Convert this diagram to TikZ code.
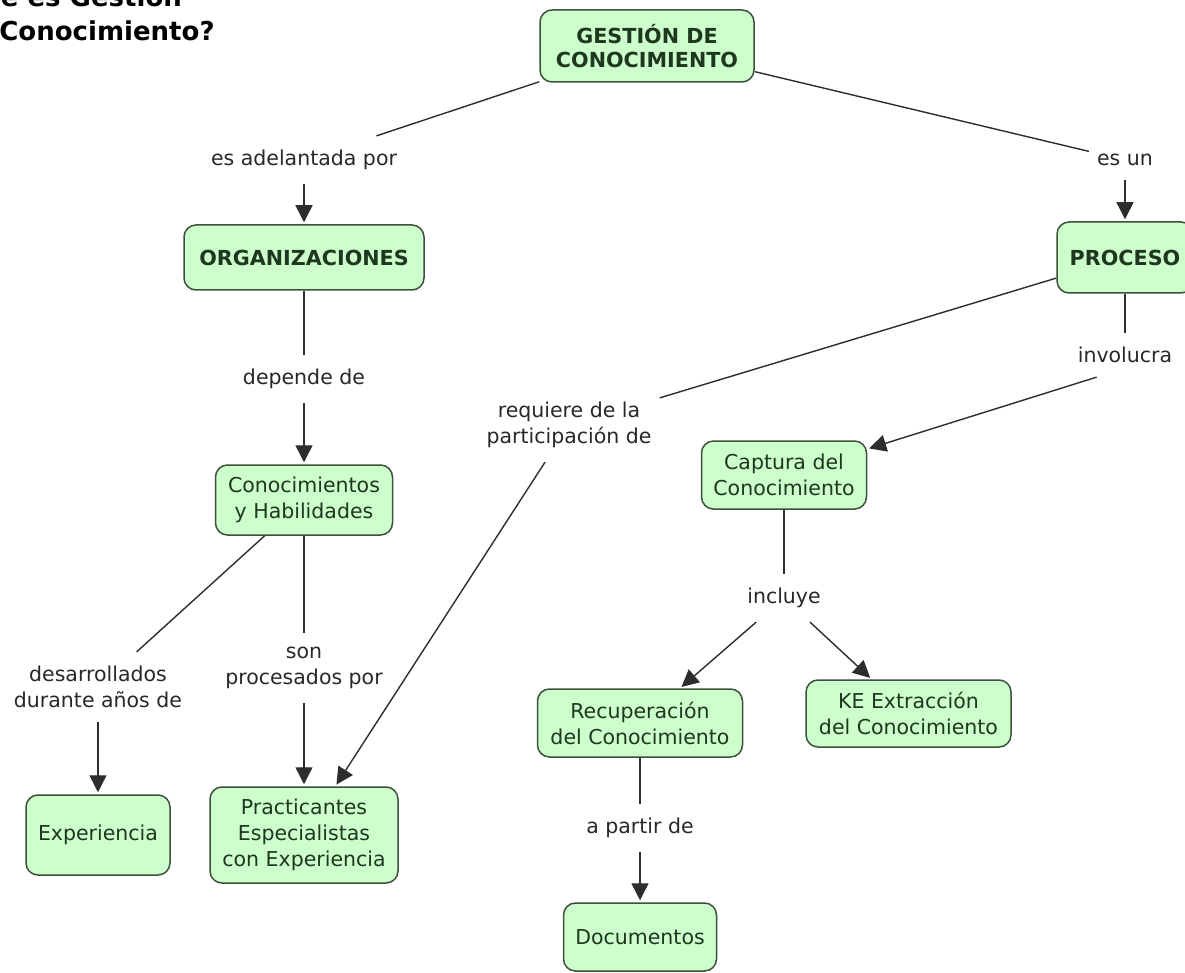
\documentclass[tikz,border=0pt]{standalone}
\usepackage{fontspec}
\setmainfont{DejaVu Sans}
\usetikzlibrary{arrows.meta,positioning}
\definecolor{conceptfill}{RGB}{204,255,204}
\definecolor{conceptline}{RGB}{60,80,60}
\definecolor{concepttext}{RGB}{30,55,30}
\definecolor{linktext}{RGB}{40,40,40}
\definecolor{linkline}{RGB}{45,45,45}

\begin{document}
\begin{tikzpicture}[x=1pt,y=-1pt,
  concept/.style={draw=conceptline,fill=conceptfill,line width=1.5pt,rounded corners=12pt,align=center,text=concepttext,inner sep=2pt,font=\fontsize{20.5}{26}\selectfont},
  bigconcept/.style={concept,font=\bfseries\fontsize{20.7}{24}\selectfont},
  linkword/.style={align=center,text=linktext,inner xsep=8pt,inner ysep=14pt,font=\fontsize{20.5}{26}\selectfont},
  link/.style={draw=linkline,line width=1.4pt},
  arrowlink/.style={link,-{Triangle[length=17pt,width=17pt]},shorten >=2pt}]
\clip (0,0) rectangle (1185,973);
\node[anchor=base west,inner sep=0pt,font=\bfseries\fontsize{26}{34}\selectfont] (title1) at (-55,7) {¿Qué es Gestión};
\node[anchor=base west,inner sep=0pt,font=\bfseries\fontsize{26}{34}\selectfont] (title2) at (-55,41) {del Conocimiento?};

\node[bigconcept,minimum width=214pt,minimum height=72pt] (gestion) at (647,46) {GESTIÓN DE\\CONOCIMIENTO};
\node[bigconcept,minimum width=240pt,minimum height=65pt] (org) at (304,257.5) {ORGANIZACIONES};
\node[bigconcept,minimum width=136pt,minimum height=71pt] (proceso) at (1125,257.5) {PROCESO};
\node[concept,minimum width=177pt,minimum height=70pt] (conoc) at (304,500) {Conocimientos\\y Habilidades};
\node[concept,minimum width=165pt,minimum height=68pt] (captura) at (784,475) {Captura del\\Conocimiento};
\node[concept,minimum width=205pt,minimum height=68pt] (recup) at (640,723) {Recuperación\\del Conocimiento};
\node[concept,minimum width=205pt,minimum height=67pt] (extrac) at (908.5,713.5) {KE Extracción\\del Conocimiento};
\node[concept,minimum width=144pt,minimum height=80pt] (exper) at (98,835) {Experiencia};
\node[concept,minimum width=188pt,minimum height=96pt] (pract) at (304,835) {Practicantes\\Especialistas\\con Experiencia};
\node[concept,minimum width=153pt,minimum height=68pt] (docs) at (640,937) {Documentos};

\node[linkword] (adelant) at (304,160) {es adelantada por};
\node[linkword] (esun) at (1125,160) {es un};
\node[linkword] (depende) at (304,379) {depende de};
\node[linkword] (involucra) at (1125,355) {involucra};
\node[linkword] (requiere) at (569,425) {requiere de la\\participación de};
\node[linkword] (incluye) at (784,598) {incluye};
\node[linkword] (desarr) at (98,687) {desarrollados\\durante años de};
\node[linkword] (procesados) at (304,668) {son\\procesados por};
\node[linkword] (partir) at (640,828) {a partir de};

\draw[link] (gestion) -- (adelant);
\draw[arrowlink] (adelant) -- (org);
\draw[link] (gestion) -- (esun);
\draw[arrowlink] (esun) -- (proceso);
\draw[link] (org) -- (depende);
\draw[arrowlink] (depende) -- (conoc);
\draw[link] (proceso) -- (involucra);
\draw[arrowlink] (involucra.218) -- (captura);
\draw[link] (proceso) -- (requiere);
\draw[arrowlink] (requiere) -- (pract);
\draw[link] (conoc) -- (desarr);
\draw[arrowlink] (desarr) -- (exper);
\draw[link] (conoc) -- (procesados);
\draw[arrowlink] (procesados) -- (pract);
\draw[link] (captura) -- (incluye);
\draw[arrowlink] (incluye) -- (recup);
\draw[arrowlink] (incluye) -- (extrac);
\draw[link] (recup) -- (partir);
\draw[arrowlink] (partir) -- (docs);
\end{tikzpicture}
\end{document}
